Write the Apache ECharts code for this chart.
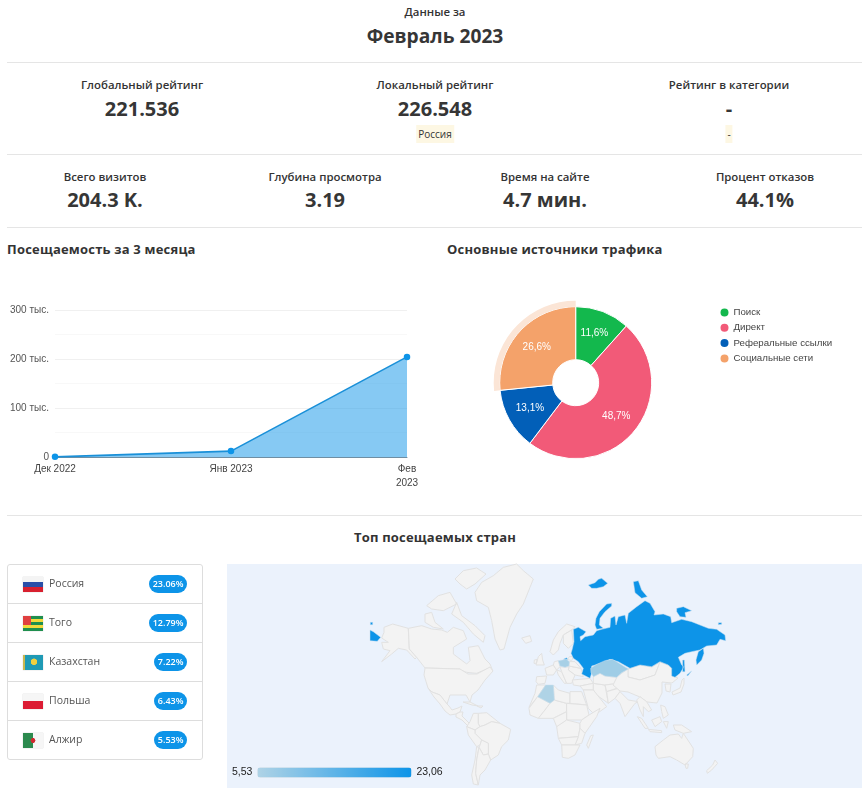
<!DOCTYPE html>
<html lang="ru"><head><meta charset="utf-8">
<script src="https://cdn.jsdelivr.net/npm/echarts@6/dist/echarts.min.js"></script>
<style>
html,body{margin:0;padding:0;background:#fff;width:862px;height:792px;overflow:hidden}
body{position:relative;font-family:"Open Sans",sans-serif;color:#333}
.t{position:absolute;transform:translateX(-50%);white-space:nowrap;text-align:center}
.l{font-size:11.4px;font-weight:600;line-height:16px}
.v{font-size:20px;font-weight:700;line-height:26px;color:#363636}
.hr{position:absolute;left:7px;right:0;height:1px;background:#e5e5e5}
.h{position:absolute;font-size:13px;font-weight:700;line-height:18px;white-space:nowrap;letter-spacing:.2px}
.note{font-size:10px;line-height:14px;background:#fdf7e3;padding:2px 2px;height:14px}
#panel{position:absolute;left:227px;top:564px;width:635px;height:224px;background:#ebf2fc}
#list{position:absolute;left:7px;top:564px;width:194px;height:194px;border:1px solid #ddd;border-radius:3px}
.row{position:absolute;left:0;right:0;height:38px;border-bottom:1px solid #ddd}
.row:last-child{border-bottom:none}
.flag{position:absolute;left:15px;top:12px;width:20px;height:15px;box-shadow:0 0 1px #bbb}
.name{position:absolute;left:41px;top:9px;font-size:10.5px;line-height:18px;color:#555}
.badge{position:absolute;right:15px;top:10px;height:18px;line-height:18px;border-radius:9px;background:#0d94e8;color:#fff;font-size:9px;font-weight:600;padding:0 3.5px;min-width:25px;text-align:center}
#line,#pie,#map{position:absolute}
#line{left:0;top:290px;width:430px;height:210px}
#pie{left:440px;top:290px;width:422px;height:190px}
#map{left:0;top:0;width:862px;height:792px}
</style></head><body>
<div id="page"></div>
<div id="map"></div><div id="line"></div><div id="pie"></div>
<div id="list"></div>
<script>
// ---- texts and values ----
const periodLabel='Данные за', periodValue='Февраль 2023';
const rankLabels=['Глобальный рейтинг','Локальный рейтинг','Рейтинг в категории'];
const rankValues=['221.536','226.548','-'];
const rankNotes=['','Россия','-'];
const kpiLabels=['Всего визитов','Глубина просмотра','Время на сайте','Процент отказов'];
const kpiValues=['204.3 K.','3.19','4.7 мин.','44.1%'];
const lineTitle='Посещаемость за 3 месяца', pieTitle='Основные источники трафика', mapTitle='Топ посещаемых стран';
const months=['Дек 2022','Янв 2023','Фев\n2023'];
const visits=[300,12000,204300];
const sources=['Поиск','Директ','Реферальные ссылки','Социальные сети'];
const shares=[11.6,48.7,13.1,26.6];
const sourceColors=['#13b84d','#f25a78','#025fb8','#f4a26a'];
const countries=['Россия','Того','Казахстан','Польша','Алжир'];
const countryShares=[23.06,12.79,7.22,6.43,5.53];

// ---- page chrome ----
const page=document.getElementById('page');
function add(cls,x,y,txt){const d=document.createElement('div');d.className=cls;d.style.left=x+'px';d.style.top=y+'px';d.textContent=txt;page.appendChild(d);return d;}
add('t l',435,4,periodLabel);
add('t v',435,23,periodValue).style.fontSize='19.2px';
[62,154,227,515].forEach(y=>{const d=document.createElement('div');d.className='hr';d.style.top=y+'px';page.appendChild(d);});
[142,435,729].forEach((x,i)=>{add('t l',x,77,rankLabels[i]);add('t v',x,96,rankValues[i]);if(rankNotes[i])add('t note',x,125,rankNotes[i]);});
[105,325,545,765].forEach((x,i)=>{add('t l',x,169,kpiLabels[i]);add('t v',x,187,kpiValues[i]);});
add('h',7,240,lineTitle);add('h',447,240,pieTitle);
add('h t',435,528,mapTitle);
const panel=document.createElement('div');panel.id='panel';page.appendChild(panel);

// ---- list with flags ----
const flagCss=[
 'linear-gradient(#f4f4f4 0 33%,#2a4fa8 33% 66%,#d8202f 66%)',
 'linear-gradient(#e04040,#e04040) 0 0/8px 9px no-repeat,linear-gradient(#1f8f4e 0 20%,#f2d93a 20% 40%,#1f8f4e 40% 60%,#f2d93a 60% 80%,#1f8f4e 80%)',
 'radial-gradient(circle at 55% 45%,#f0d040 0 3px,transparent 3.5px),linear-gradient(90deg,#c8b850 0 2px,#1f9ab5 2px)',
 'linear-gradient(#f6f6f6 0 50%,#dc1c34 50%)',
 'radial-gradient(circle at 50% 50%,#d02a30 0 2.2px,transparent 2.7px),linear-gradient(90deg,#2c8a4e 0 50%,#f6f6f6 50%)'];
const list=document.getElementById('list');
countries.forEach((c,i)=>{
 const r=document.createElement('div');r.className='row';r.style.top=(i*39)+'px';
 r.innerHTML='<div class="flag" style="background:'+flagCss[i]+'"></div><div class="name">'+c+'</div><div class="badge">'+countryShares[i].toFixed(2)+'%</div>';
 list.appendChild(r);
});

// ---- line chart ----
const yTicks={0:'0',100000:'100 тыс.',200000:'200 тыс.',300000:'300 тыс.'};
echarts.init(document.getElementById('line')).setOption({
 animation:false,
 grid:{left:55,right:23,top:20,bottom:43},
 xAxis:{type:'category',boundaryGap:false,data:months,
  axisLine:{lineStyle:{color:'#6f8ea3',width:1}},axisTick:{show:false},
  axisLabel:{interval:0,color:'#444',fontFamily:'Liberation Sans',fontSize:10,margin:5,lineHeight:14}},
 yAxis:{type:'value',min:0,max:300000,interval:100000,
  axisLine:{show:false},axisTick:{show:false},
  axisLabel:{formatter:v=>yTicks[v],color:'#555',fontFamily:'Liberation Sans',fontSize:10,margin:6},
  splitLine:{lineStyle:{color:'#f0f0f0'}},
  minorTick:{show:false,splitNumber:2},minorSplitLine:{show:true,lineStyle:{color:'#f8f8f8'}}},
 series:[{type:'line',data:visits,symbol:'circle',symbolSize:6.5,
  lineStyle:{color:'#1a90d8',width:1.6},itemStyle:{color:'#0d94e8'},
  areaStyle:{color:'#0d94e8',opacity:.5}}]
});

// ---- pie ----
const pieData=sources.map((n,i)=>({name:n,value:shares[i],itemStyle:{color:sourceColors[i]}}));
echarts.init(document.getElementById('pie')).setOption({
 animation:false,
 legend:{orient:'vertical',left:278.5,top:16.5,padding:0,icon:'circle',itemWidth:10,itemHeight:10,itemGap:3.3,selectedMode:false,
  data:sources,textStyle:{color:'#444',fontFamily:'Liberation Sans',fontSize:9.7,padding:[0,0,0,-1]}},
 series:[
  {type:'pie',silent:true,center:[135.7,92.7],radius:[23,76],startAngle:90,clockwise:true,data:pieData,
   itemStyle:{borderColor:'#fff',borderWidth:1},
   label:{position:'inside',formatter:p=>p.value.toFixed(1).replace('.',',')+'%',color:'#fff',fontFamily:'Liberation Sans',fontSize:10},labelLine:{show:false}},
  {type:'pie',silent:true,center:[135.7,92.7],radius:[76,82],startAngle:90,clockwise:true,
   data:sources.map((n,i)=>({name:n,value:shares[i],itemStyle:{color:i===3?'#fbe5d6':'rgba(0,0,0,0)'}})),
   label:{show:false},labelLine:{show:false},legendHoverLink:false}
 ]
});

// ---- simplified outline map, traced in page coordinates (x, -y) ----
const ring=(ox,oy,p)=>{const r=[];for(let i=0;i<p.length;i+=2)r.push([ox+p[i]/3,-(oy+p[i+1]/3)]);r.push(r[0]);return r;};
const scr=p=>ring(0,0,p.map(v=>v*3));
const N=[360,564],V=[420,680],E=[525,620],R=[560,570],O=[620,660];
const visitedShapes={
 'Россия':[
  ring(...R,[40,178,55,172,78,185,70,195,60,200,62,212,75,200,100,195,110,182,125,178,150,172,152,145,165,138,168,165,175,140,195,135,200,160,205,130,230,110,255,92,270,100,285,125,282,135,310,132,332,140,335,158,365,148,395,155,420,165,445,175,470,178,495,195,497,212,480,208,470,225,440,228,420,240,395,245,375,250,355,262,365,285,372,290,360,310,345,322,335,318,335,295,325,285,300,275,275,290,240,285,210,295,175,275,150,268,125,280,95,288,95,310,90,325,65,312,70,295,55,275,40,265,33,250,36,240,42,215]),
  ring(...R,[105,165,108,145,118,125,140,102,155,100,155,108,135,125,120,145,118,165,130,175,110,178]),
  ring(...R,[85,45,105,38,115,28,125,25,143,40,130,50,110,55,95,55]),
  ring(...R,[220,35,235,32,245,60,262,80,245,85,225,68]),
  ring(...R,[350,115,370,110,395,122,375,128,378,142,360,140,350,125]),
  ring(...R,[475,158,485,158,485,163,475,164]),
  ring(...R,[368,270,373,270,375,305,368,305]),
  ring(...R,[430,235,415,245,408,270,410,285,425,270,432,250]),
  ring(...R,[380,315,395,303,397,305,383,318]),
  ring(...N,[30,198,40,203,62,220,52,232,30,230]),
  ring(...N,[31,175,38,175,38,182,31,182]),
  ring(...E,[115,118,125,113,128,118,122,120])],
 'Казахстан':[ring(...E,[197,145,215,133,240,122,262,118,280,128,295,138,310,147,290,158,275,172,240,168,225,160,205,170,198,158])],
 'Польша':[ring(...E,[100,122,125,118,133,125,132,138,120,142,105,138])],
 'Алжир':[ring(...E,[38,230,62,195,85,195,88,240,75,250])]
};
const landShapes={
 'Гренландия':[ring(...N,[345,85,365,55,400,35,430,10,470,0,490,20,520,45,510,70,490,120,470,150,450,190,432,255,420,258,405,225,395,170,385,130,350,110])],
 'Исландия':[ring(...N,[485,222,510,215,515,232,497,238])],
 'Аляска':[ring(...N,[72,190,98,180,145,193,148,255,170,280,165,285,140,258,115,253,95,270,65,293,90,260,70,255,65,235,85,235,65,222,72,205])],
 'Канада':[ring(...N,[145,193,185,185,215,195,245,198,262,205,280,190,310,200,320,225,280,250,280,270,320,300,330,290,325,250,355,245,375,285,390,300,398,320,380,315,350,328,320,325,305,320,300,315,195,312,170,280,148,255]),
  ring(...N,[285,45,310,20,350,12,378,30,345,60,320,75,300,60]),
  ring(...N,[200,125,235,95,270,85,290,120,250,140,215,135]),
  ring(...N,[290,115,305,155,345,185,375,215,370,235,340,210,310,175,275,150]),
  ring(...N,[195,150,215,145,225,175,250,195,220,190,195,175])],
 'США':[scr([425,668,460,669,468,674,477,674,490,667,493,671,485,680,478,690,472,695,470,702,466,695,460,695,450,695,447,704,440,695,432,692,428,688,424,675])],
 'Мексика':[scr([428,688,432,692,440,695,447,704,449,706,452,710,458,708,462,706,460,712,456,714,450,715,445,711,440,704,434,697])],
 'Центр. Америка':[scr([456,714,460,712,463,712,462,716,470,724,472,727,468,726,462,720,456,717])],
 'Куба':[scr([463,702,470,702,478,706,472,705])],
 'Гаити':[scr([477,706,483,706,481,708])],
 'Колумбия':[ring(...V,[150,125,160,100,175,100,175,130,180,140,165,150,140,140])],
 'Венесуэла':[ring(...V,[175,100,200,98,240,130,215,125,195,135,180,140,175,130])],
 'Бразилия':[ring(...V,[180,140,195,135,215,125,240,130,272,148,265,180,245,200,235,225,212,240,205,222,205,190,185,180,165,160,165,150])],
 'Перу':[ring(...V,[140,140,165,150,165,160,185,180,180,195,170,200,145,165])],
 'Боливия':[ring(...V,[180,195,185,180,205,190,205,222,190,225,177,202])],
 'Чили':[ring(...V,[170,200,177,202,170,240,167,280,175,315,160,312,155,285,165,240])],
 'Аргентина':[ring(...V,[177,202,190,225,205,222,212,240,195,270,180,285,175,315,167,280,170,240])],
 'Норвегия':[ring(...E,[75,95,85,60,100,35,125,12,150,20,140,30,115,45,105,70,100,90,85,105])],
 'Финляндия':[ring(...E,[115,45,140,30,145,70,130,85,115,70])],
 'Британия':[ring(...E,[33,135,40,110,50,100,53,120,58,135])],
 'Ирландия':[ring(...E,[28,120,36,118,34,130,27,130])],
 'Франция':[ring(...E,[60,145,85,135,95,150,85,165,65,165])],
 'Испания':[ring(...E,[35,170,65,168,60,190,40,193,33,185])],
 'Германия':[ring(...E,[88,125,100,122,105,140,95,150,85,135])],
 'Италия':[ring(...E,[95,150,110,155,125,190,118,190,100,165])],
 'Украина':[ring(...E,[132,138,168,145,175,170,150,165,130,150])],
 'Беларусь':[ring(...E,[133,125,150,125,168,145,132,138])],
 'Прибалтика':[ring(...E,[133,110,145,110,140,122,128,118])],
 'Балканы':[ring(...E,[105,140,120,142,132,140,130,150,150,165,140,190,125,190,110,155])],
 'Турция':[ring(...E,[142,180,195,175,205,190,165,198,145,195])],
 'Сирия':[ring(...E,[165,198,205,190,205,210,175,210])],
 'Иран':[ring(...E,[205,190,240,195,250,250,215,225,205,210])],
 'Аравия':[ring(...E,[175,210,205,210,245,260,210,285,190,265])],
 'Ср. Азия':[ring(...E,[205,170,225,160,240,168,275,172,280,190,240,195,205,190])],
 'Афганистан':[ring(...E,[240,195,280,190,275,205,245,215])],
 'Пакистан':[ring(...E,[245,215,280,205,285,215,270,235,250,250])],
 'Индия':[ring(...E,[285,215,310,240,340,245,330,250,300,290,285,250,270,235])],
 'Монголия':[scr([628,669,640,665,652,667,660,662,655,675,640,680,628,677])],
 'Китай':[scr([617,677,622,673,628,669,628,677,640,680,655,675,660,662,668,665,672,668,672,676,678,678,672,683,662,682,662,693,657,703,647,702,640,697,628,692,620,691,613,685])],
 'Корея':[scr([665,684,671,684,670,692,666,691])],
 'Япония':[scr([672,692,680,688,682,680,684,678,684,684,681,692,673,695])],
 'Индокитай':[ring(...O,[60,110,80,125,95,150,85,155,70,140,70,170,60,150,50,120])],
 'Суматра':[ring(...O,[52,170,65,175,85,205,75,205])],
 'Ява':[ring(...O,[85,208,125,212,125,218,90,215])],
 'Борнео':[ring(...O,[95,180,120,170,125,185,105,200])],
 'Филиппины':[ring(...O,[122,135,135,140,145,165,130,175,125,155])],
 'Сулавеси':[ring(...O,[130,185,145,185,140,205])],
 'Н. Гвинея':[ring(...O,[160,195,185,195,215,215,190,220,165,210])],
 'Австралия':[ring(...O,[105,260,130,240,150,225,175,222,185,235,190,220,220,265,218,290,195,315,170,300,150,290,115,295,108,285]),ring(...O,[195,312,205,312,203,325,198,325])],
 'Н. Зеландия':[ring(...O,[285,300,293,310,275,330,262,340,260,332,278,315])],
 'Марокко':[ring(...E,[35,195,62,195,38,230,12,262,30,220])],
 'Мавритания':[ring(...E,[12,265,38,230,75,250,60,270,40,295,15,285])],
 'Мали':[ring(...E,[75,250,88,240,125,250,125,275,85,295,40,295,60,270])],
 'Ливия':[ring(...E,[85,195,100,210,135,220,135,250,125,250,88,240])],
 'Египет':[ring(...E,[135,215,170,215,185,255,135,250])],
 'Судан':[ring(...E,[125,250,185,255,192,285,170,300,125,300])],
 'Нигерия':[ring(...E,[85,295,125,275,125,300,100,320,95,320])],
 'Конго':[ring(...E,[95,320,125,300,165,310,165,325,160,350,100,355])],
 'Эфиопия':[ring(...E,[170,300,192,285,225,265,215,290,180,340,165,325,165,310])],
 'Танзания':[ring(...E,[160,350,165,325,180,340,170,370,150,375])],
 'Ангола':[ring(...E,[100,355,160,350,150,375,110,375])],
 'ЮАР':[ring(...E,[110,375,150,375,165,375,150,405,130,415,112,412])],
 'Мадагаскар':[ring(...E,[205,345,190,385,185,375,197,347])]
};
const toMap=s=>({type:'FeatureCollection',features:Object.keys(s).map(n=>({type:'Feature',properties:{name:n},geometry:{type:'MultiPolygon',coordinates:s[n].map(r=>[r])}}))});
echarts.registerMap('land',toMap(landShapes));
echarts.registerMap('visited',toMap(visitedShapes));
const frame={boundingCoords:[[0,0],[862,-792]],aspectScale:1,left:0,top:0,right:0,bottom:0,roam:false,silent:true};
echarts.init(document.getElementById('map')).setOption({
 animation:false,
 geo:{map:'land',...frame,label:{show:false},itemStyle:{areaColor:'#f3f3f3',borderColor:'#e1e1e1',borderWidth:1}},
 visualMap:{type:'continuous',min:5.53,max:23.06,orient:'horizontal',left:232,top:767,padding:0,itemWidth:10,itemHeight:154,textGap:5,
  text:['23,06','5,53'],calculable:false,hoverLink:false,realtime:false,
  inRange:{color:['#afd3e6','#0d94e8']},textStyle:{color:'#222',fontFamily:'Liberation Sans',fontSize:10.5}},
 series:[{type:'map',map:'visited',...frame,label:{show:false},
  itemStyle:{areaColor:'#f3f3f3',borderColor:'#c9dfee',borderWidth:.5},
  data:countries.map((c,i)=>({name:c,value:countryShares[i]})).filter(d=>visitedShapes[d.name])}]
});
</script>
</body></html>
